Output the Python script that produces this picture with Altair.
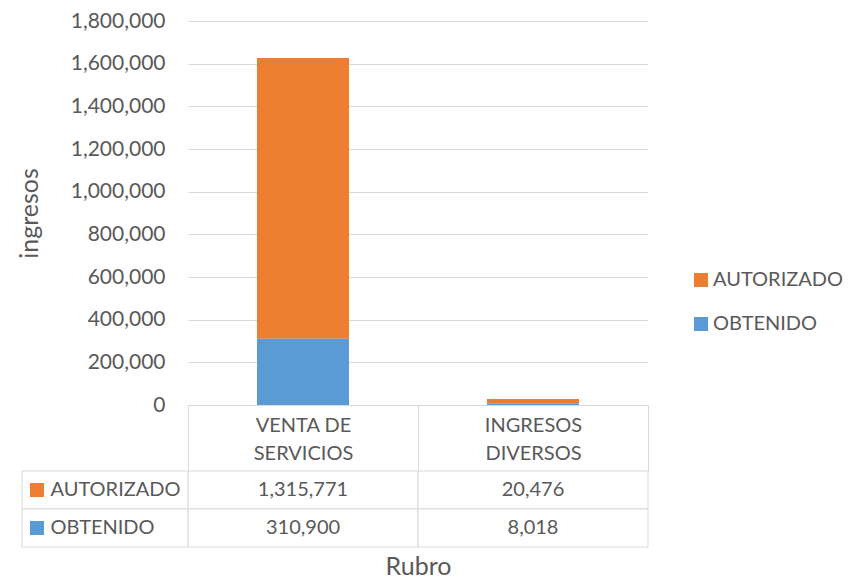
import altair as alt
import pandas as pd

categories = ["VENTA DE SERVICIOS", "INGRESOS DIVERSOS"]
series = ["AUTORIZADO", "OBTENIDO"]
autorizado = [1315771, 20476]
obtenido = [310900, 8018]
y_ticks = [0, 200000, 400000, 600000, 800000, 1000000, 1200000, 1400000, 1600000, 1800000]
colors = ["#ED7D31", "#5B9BD5"]

rows = []
for i, c in enumerate(categories):
    rows.append({"rubro": c, "serie": "AUTORIZADO", "valor": autorizado[i], "orden": 1})
    rows.append({"rubro": c, "serie": "OBTENIDO", "valor": obtenido[i], "orden": 0})
df = pd.DataFrame(rows)
series_df = pd.DataFrame({"serie": series})

FONT = "Lato"
TXT = "#595959"
GRID = "#D9D9D9"
FS = 20

xscale = alt.Scale(paddingInner=0, paddingOuter=0)
cscale = alt.Scale(domain=series, range=colors)

label_expr = ("[slice(datum.label, 0, lastindexof(datum.label, ' ')), "
              "slice(datum.label, lastindexof(datum.label, ' ') + 1)]")

top = alt.Chart(df).mark_bar(width=alt.RelativeBandSize(0.4)).encode(
    x=alt.X("rubro:N", sort=categories, scale=xscale,
            axis=alt.Axis(title=None, labelAngle=0, domainColor=GRID, tickColor=GRID,
                          tickBand="extent", tickSize=66, labelPadding=-56, labelFontSize=FS,
                          labelExpr=label_expr, labelLineHeight=28, labelBaseline="top")),
    y=alt.Y("valor:Q", stack="zero", scale=alt.Scale(domain=[0, 1800000]),
            axis=alt.Axis(values=y_ticks, labelExpr="format(datum.value, ',.0f')",
                          title="ingresos", ticks=False, labelFontSize=21,
                          domain=False, gridColor=GRID, labelPadding=23, titlePadding=28)),
    color=alt.Color("serie:N", scale=cscale,
                    legend=alt.Legend(title=None, orient="none", legendX=503, legendY=249,
                                      symbolType="square", symbolSize=196, symbolStrokeWidth=0,
                                      rowPadding=24, labelOffset=2)),
    order=alt.Order("orden:Q"),
).properties(width=460, height=384)

xt = alt.X("rubro:N", sort=categories, scale=xscale,
           axis=alt.Axis(title="Rubro", labels=False, ticks=False, domain=False, titlePadding=7))
yt = alt.Y("serie:N", sort=series, scale=alt.Scale(paddingInner=0, paddingOuter=0),
           axis=alt.Axis(title=None, ticks=False, domain=False, labelAlign="left",
                         labelPadding=138, labelFontSize=FS))

cells = alt.Chart(df).mark_rect(fill="white", stroke=GRID, strokeWidth=1).encode(x=xt, y=yt)
texts = alt.Chart(df).mark_text(fontSize=FS, font=FONT, color=TXT).encode(
    x=xt, y=yt, text=alt.Text("valor:Q", format=","))
left_cells = alt.Chart(series_df).mark_rect(fill="white", stroke=GRID, strokeWidth=1).encode(
    x=alt.value(-166), x2=alt.value(0), y=yt)
squares = alt.Chart(series_df).mark_square(size=196, opacity=1).encode(
    x=alt.value(-151), y=yt, color=alt.Color("serie:N", scale=cscale, legend=None))

table = alt.layer(cells, texts, left_cells, squares).properties(width=460, height=76)

chart = alt.vconcat(top, table, spacing=66, bounds="flush").properties(
    padding={"left": 9, "top": 2, "right": 5, "bottom": 0}
).configure_view(stroke=None).configure_axis(
    labelFont=FONT, titleFont=FONT, titleFontSize=25,
    labelColor=TXT, titleColor=TXT, titleFontWeight="normal"
).configure_legend(labelFont=FONT, labelFontSize=FS, labelColor=TXT)

chart.save("out.html", embed_options={"renderer": "svg", "actions": False})
